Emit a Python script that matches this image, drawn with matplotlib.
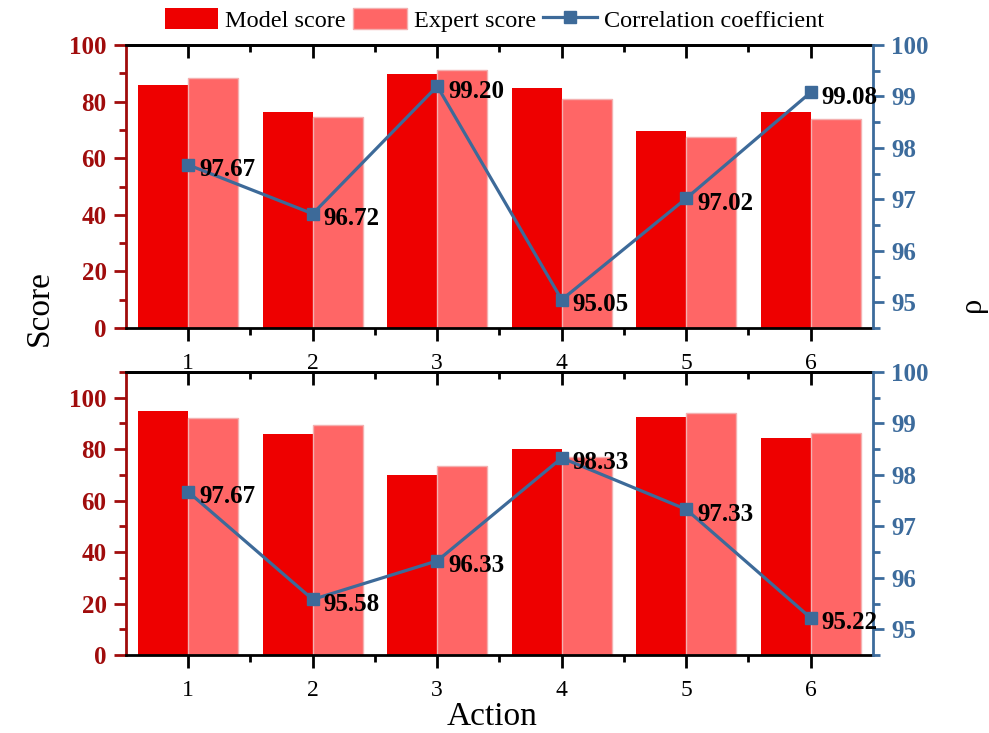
import numpy as np
import matplotlib
matplotlib.use("Agg")
import matplotlib.pyplot as plt
from matplotlib.ticker import MultipleLocator, FixedLocator

plt.rcParams['font.family'] = ['Liberation Serif', 'DejaVu Serif']

actions = [1, 2, 3, 4, 5, 6]
top_model = [85.7, 76.4, 89.9, 84.7, 69.7, 76.4]
top_expert = [88.3, 74.7, 91.3, 80.9, 67.6, 73.8]
top_rho = [97.67, 96.72, 99.20, 95.05, 97.02, 99.08]
bot_model = [94.7, 85.8, 69.8, 80.1, 92.4, 84.2]
bot_expert = [92.2, 89.3, 73.5, 77.1, 94.1, 86.4]
bot_rho = [97.67, 95.58, 96.33, 98.33, 97.33, 95.22]

c_model = '#EE0000'
c_expert = '#FF6666'
c_left = '#A00C0C'
c_right = '#3C6B9C'
c_line = '#3D6A99'
minor_x = [1.5, 2.5, 3.5, 4.5, 5.5]

fig = plt.figure(figsize=(9.89, 7.33), dpi=100)

def panel(rect, model, expert, rho, ymax):
    ax = fig.add_axes(rect)
    x = np.array(actions)
    w = 0.4
    b1 = ax.bar(x - w / 2, model, w, color=c_model, linewidth=0)
    b2 = ax.bar(x + w / 2, expert, w, color=c_expert, edgecolor='#F4B0B0', linewidth=1)
    ax.set_xlim(0.5, 6.5)
    ax.set_ylim(0, ymax)
    ax.set_xticks(actions)
    ax.xaxis.set_minor_locator(FixedLocator(minor_x))
    ax.yaxis.set_major_locator(MultipleLocator(20))
    ax.yaxis.set_minor_locator(MultipleLocator(10))
    ax.tick_params(axis='x', which='both', direction='out', width=2, colors='black')
    ax.tick_params(axis='x', which='major', length=9, labelsize=17, pad=9)
    ax.tick_params(axis='x', which='minor', length=5)
    ax.tick_params(axis='y', which='both', direction='out', width=2, colors=c_left)
    ax.tick_params(axis='y', which='major', length=9, labelsize=18, pad=5)
    ax.tick_params(axis='y', which='minor', length=5)
    for t in ax.get_yticklabels():
        t.set_fontweight('bold')
    for s in ['top', 'bottom']:
        ax.spines[s].set_linewidth(2)
        ax.spines[s].set_color('black')
    ax.spines['left'].set_linewidth(2)
    ax.spines['left'].set_color(c_left)
    ax.spines['right'].set_visible(False)

    # ticks on the top spine point inwards
    sec = ax.secondary_xaxis('top')
    sec.set_xticks(actions)
    sec.xaxis.set_minor_locator(FixedLocator(minor_x))
    sec.tick_params(axis='x', which='both', direction='in', width=2, labeltop=False)
    sec.tick_params(axis='x', which='major', length=9)
    sec.tick_params(axis='x', which='minor', length=5)
    sec.spines['top'].set_linewidth(2)

    ax2 = ax.twinx()
    ln, = ax2.plot(actions, rho, color=c_line, lw=2.3, marker='s', ms=9)
    ax2.set_ylim(94.5, 100)
    ax2.yaxis.set_major_locator(MultipleLocator(1))
    ax2.yaxis.set_minor_locator(MultipleLocator(0.5))
    ax2.tick_params(axis='y', which='both', direction='out', width=2, colors=c_right)
    ax2.tick_params(axis='y', which='major', length=8, labelsize=18, pad=5)
    ax2.tick_params(axis='y', which='minor', length=5)
    for t in ax2.get_yticklabels():
        t.set_fontweight('bold')
    ax2.spines['right'].set_linewidth(2)
    ax2.spines['right'].set_color(c_right)
    for s in ['top', 'bottom', 'left']:
        ax2.spines[s].set_visible(False)
    for xi, r in zip(actions, rho):
        ax2.annotate('%.2f' % r, (xi, r), xytext=(11, -5), textcoords='offset pixels',
                     ha='left', va='center', fontsize=18, fontweight='bold', color='black')
    return b1, b2, ln

b1, b2, ln = panel([0.1274, 0.5525, 0.7553, 0.3861], top_model, top_expert, top_rho, 100)
panel([0.1274, 0.1064, 0.7553, 0.3861], bot_model, bot_expert, bot_rho, 110)

fig.legend([b1, b2, ln], ['Model score', 'Expert score', 'Correlation coefficient'],
           loc='center', bbox_to_anchor=(0.5, 0.973), ncol=3, frameon=False,
           fontsize=17.5, handlelength=2.2, handleheight=1.0, handletextpad=0.3,
           columnspacing=0.3, borderpad=0)

fig.text(0.04, 0.58, 'Score', rotation=90, ha='center', va='center', fontsize=24)
fig.text(0.983, 0.585, 'ρ', rotation=90, ha='center', va='center', fontsize=22)
fig.text(0.498, 0.022, 'Action', ha='center', va='center', fontsize=24)

fig.savefig('out.png', dpi=100)
